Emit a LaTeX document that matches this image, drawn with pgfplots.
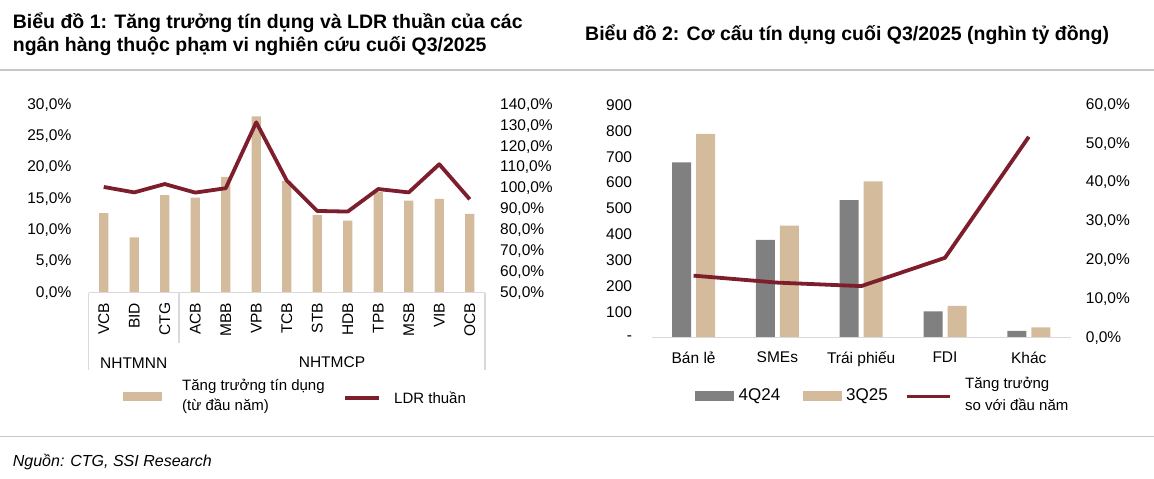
\documentclass[border=0pt]{standalone}
\usepackage{pgfplots}
\usepackage{pgfplotstable}
\pgfplotsset{compat=1.18}
\usepackage{fontspec}
\setmainfont{Liberation Sans}
\definecolor{beige}{RGB}{212,187,156}
\definecolor{dgray}{RGB}{128,128,128}
\definecolor{wine}{RGB}{125,30,45}
\definecolor{rulec}{RGB}{200,200,200}
\definecolor{axl}{RGB}{217,217,217}
\newcommand\tk{\fontsize{15.5}{18}\selectfont}
\newcommand\lgf{\fontsize{15}{21}\selectfont}
\newcommand\ttl{\fontsize{19.5}{22}\selectfont\bfseries}

\pgfplotstableread{
x  g     ldr
0  12.7  100.7
1  8.85  98.1
2  15.6  102.1
3  15.2  98.0
4  18.5  100.1
5  28.2  131.7
6  17.85 103.8
7  12.4  89.2
8  11.5  88.9
9  16.1  99.7
10 14.7  98.1
11 15.0  111.6
12 12.6  94.8
}\leftdata

\pgfplotstableread{
x a   b   g
0 678 788 16.0
1 378 433 14.2
2 532 605 13.3
3 102 123 20.6
4 26  40  51.8
}\rightdata

\begin{document}
\begin{tikzpicture}[x=1pt,y=1pt]
\useasboundingbox (0,0) rectangle (1154,479);
\pgfplotsset{every axis/.append style={scale only axis,
  axis line style={draw=none}, tick style={draw=none}, major tick length=0pt,
  ticklabel style={font=\tk, inner sep=0pt}}}

% rules
\draw[rulec, line width=1.2pt] (0,409) -- (1154,409);
\draw[rulec, line width=1.2pt] (0,42.3) -- (1154,42.3);

% titles
\node[anchor=west, font=\ttl, inner sep=0pt] at (12.7,456.5) {Biểu đồ 1: Tăng trưởng tín dụng và LDR thuần của các};
\node[anchor=west, font=\ttl, inner sep=0pt] at (12.7,432.5) {ngân hàng thuộc phạm vi nghiên cứu cuối Q3/2025};
\node[anchor=west, font=\ttl, inner sep=0pt] at (585,444) {Biểu đồ 2: Cơ cấu tín dụng cuối Q3/2025 (nghìn tỷ đồng)};
\node[anchor=west, font=\fontsize{16}{19}\selectfont\itshape, inner sep=0pt] at (12.7,17) {Nguồn: CTG, SSI Research};

% ---------------- Chart 1 ----------------
\begin{axis}[at={(88.5pt,186.3pt)}, anchor=south west, width=396.5pt, height=187.7pt,
  xmin=-0.5, xmax=12.5, ymin=0, ymax=30,
  xtick={0,...,12}, xticklabels={VCB,BID,CTG,ACB,MBB,VPB,TCB,STB,HDB,TPB,MSB,VIB,OCB},
  xticklabel style={rotate=90, anchor=east}, xticklabel shift=10pt,
  ytick={0,5,10,15,20,25,30},
  yticklabels={{0,0\%},{5,0\%},{10,0\%},{15,0\%},{20,0\%},{25,0\%},{30,0\%}},
  yticklabel shift=17pt]
\addplot[ybar, bar width=9.3pt, fill=beige, draw=none] table[x=x,y=g]{\leftdata};
\end{axis}
\begin{axis}[at={(88.5pt,186.3pt)}, anchor=south west, width=396.5pt, height=187.7pt,
  xmin=-0.5, xmax=12.5, ymin=50, ymax=140, xtick=\empty,
  ytick={50,60,...,140}, yticklabel pos=right,
  yticklabels={{50,0\%},{60,0\%},{70,0\%},{80,0\%},{90,0\%},{100,0\%},{110,0\%},{120,0\%},{130,0\%},{140,0\%}},
  yticklabel shift=15pt]
\addplot[wine, line width=3.8pt, line join=round, no marks] table[x=x,y=ldr]{\leftdata};
\end{axis}
% chart 1 axis frame
\draw[axl, line width=1.3pt] (88.5,186.3) -- (485,186.3);
\draw[axl, line width=1.3pt] (88.5,186.3) -- (88.5,109);
\draw[axl, line width=1.3pt] (485,186.3) -- (485,109);
\draw[axl, line width=1.3pt] (179,186.3) -- (179,136.3);
\node[font=\tk, inner sep=0pt] at (133.7,116) {NHTMNN};
\node[font=\tk, inner sep=0pt] at (332,117) {NHTMCP};
% chart 1 legend
\fill[beige] (123,77.5) rectangle (161.5,86.5);
\node[anchor=west, font=\lgf, inner sep=0pt] at (182,92.3) {Tăng trưởng tín dụng};
\node[anchor=west, font=\lgf, inner sep=0pt] at (182,72.3) {(từ đầu năm)};
\draw[wine, line width=3.8pt] (345,81) -- (379,81);
\node[anchor=west, font=\lgf, inner sep=0pt] at (394,81) {LDR thuần};

% ---------------- Chart 2 ----------------
\begin{axis}[at={(651.7pt,141.3pt)}, anchor=south west, width=419pt, height=232.7pt,
  xmin=-0.5, xmax=4.5, ymin=0, ymax=900, ybar=5pt, bar width=19pt,
  xtick={0,...,4}, xticklabels={Bán lẻ,SMEs,Trái phiếu,FDI,Khác},
  xticklabel style={anchor=north}, xticklabel shift=14pt,
  ytick={0,100,...,900},
  yticklabels={{-\hspace{8pt}},100,200,300,400,500,600,700,800,900},
  yticklabel shift=19.5pt]
\addplot[fill=dgray, draw=none] table[x=x,y=a]{\rightdata};
\addplot[fill=beige, draw=none] table[x=x,y=b]{\rightdata};
\end{axis}
\begin{axis}[at={(651.7pt,141.3pt)}, anchor=south west, width=419pt, height=232.7pt,
  xmin=-0.5, xmax=4.5, ymin=0, ymax=60, xtick=\empty,
  ytick={0,10,...,60}, yticklabel pos=right,
  yticklabels={{0,0\%},{10,0\%},{20,0\%},{30,0\%},{40,0\%},{50,0\%},{60,0\%}},
  yticklabel shift=15pt]
\addplot[wine, line width=3.8pt, line join=round, no marks] table[x=x,y=g]{\rightdata};
\end{axis}
\draw[axl, line width=1.3pt] (651.7,141.3) -- (1070.7,141.3);
% chart 2 legend
\fill[dgray] (695,78) rectangle (734,87.5);
\node[anchor=west, font=\fontsize{17}{20}\selectfont, inner sep=0pt] at (738.5,82.5) {4Q24};
\fill[beige] (803,78) rectangle (842,87.5);
\node[anchor=west, font=\fontsize{17}{20}\selectfont, inner sep=0pt] at (846,82.5) {3Q25};
\draw[wine, line width=3.8pt] (907,82.5) -- (950,82.5);
\node[anchor=west, font=\lgf, inner sep=0pt] at (965,94.5) {Tăng trưởng};
\node[anchor=west, font=\lgf, inner sep=0pt] at (965,74.5) {so với đầu năm};
\end{tikzpicture}
\end{document}
